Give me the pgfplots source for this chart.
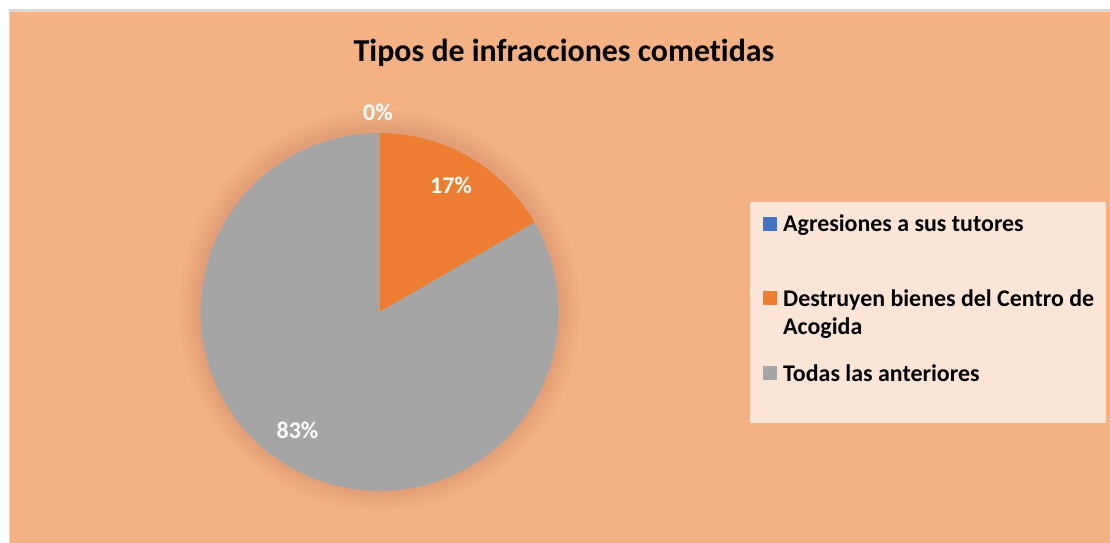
\documentclass[border=0pt]{standalone}
\usepackage{pgfplots}
\pgfplotsset{compat=1.18}
\usepackage{pgfplotstable}
\usepackage{fontspec}
\setmainfont{Carlito}[Ligatures=NoCommon]
\definecolor{bgorange}{HTML}{F4B183}
\definecolor{legbg}{HTML}{FBE5D6}
\definecolor{borderg}{HTML}{D9D9D9}
\definecolor{pieblue}{HTML}{4472C4}
\definecolor{pieorange}{HTML}{ED7D31}
\definecolor{piegray}{HTML}{A5A5A5}

\pgfplotstableread{
label value
Agresiones 0
Destruyen 1
Todas 5
}\piedata

\pgfplotstablegetelem{0}{value}\of\piedata \let\vA\pgfplotsretval
\pgfplotstablegetelem{1}{value}\of\piedata \let\vB\pgfplotsretval
\pgfplotstablegetelem{2}{value}\of\piedata \let\vC\pgfplotsretval
\pgfmathsetmacro\total{\vA+\vB+\vC}
\pgfmathsetmacro\angA{90}
\pgfmathsetmacro\angB{\angA-360*\vA/\total}
\pgfmathsetmacro\angC{\angB-360*\vB/\total}
\pgfmathsetmacro\angD{\angC-360*\vC/\total}
\pgfmathtruncatemacro\pA{round(100*\vA/\total)}
\pgfmathtruncatemacro\pB{round(100*\vB/\total)}
\pgfmathtruncatemacro\pC{round(100*\vC/\total)}

\begin{document}
\begin{tikzpicture}[x=1bp,y=1bp]
\useasboundingbox (0,0) rectangle (1110,543);
% background
\fill[white] (0,0) rectangle (1110,543);
\fill[borderg] (8.5,0) rectangle (1110,533.5);
\fill[bgorange] (10,0) rectangle (1110,531);
% title
\node[anchor=base, font=\fontsize{32}{38}\selectfont\bfseries] at (564,481) {Tipos de infracciones cometidas};
\begin{axis}[
  x=1bp, y=1bp,
  xmin=-180, xmax=180, ymin=-180, ymax=180,
  hide axis, clip=false,
  anchor=center, at={(379.5bp,231bp)},
]
% soft shadow
\pgfplotsinvokeforeach{1,...,9}{
  \fill[black, opacity=0.009] (axis cs:0,2) circle[radius={179bp+2.5bp*#1}];
}
\fill[pieblue] (axis cs:0,0) -- ++(\angA:179bp) arc[start angle=\angA, end angle=\angB, radius=179bp] -- cycle;
\fill[pieorange] (axis cs:0,0) -- ++(\angB:179bp) arc[start angle=\angB, end angle=\angC, radius=179bp] -- cycle;
\fill[piegray] (axis cs:0,0) -- ++(\angC:179bp) arc[start angle=\angC, end angle=\angD, radius=179bp] -- cycle;
\node[anchor=base, white, font=\fontsize{24}{28}\selectfont\bfseries] at (axis cs:-1.5,191) {\pA\%};
\node[anchor=base, white, font=\fontsize{24}{28}\selectfont\bfseries] at (axis cs:71.5,118) {\pB\%};
\node[anchor=base, white, font=\fontsize{24}{28}\selectfont\bfseries] at (axis cs:-82,-127) {\pC\%};
\end{axis}
% legend
\fill[legbg] (750,120) rectangle (1106,341);
\fill[pieblue] (763,311.5) rectangle (777,325.5);
\fill[pieorange] (763,237.5) rectangle (777,251.5);
\fill[piegray] (763,163) rectangle (777,177);
\begin{scope}[every node/.style={anchor=base west, inner sep=0pt, font=\fontsize{24}{29}\selectfont\bfseries, align=left}]
\node at (783,311) {Agresiones a sus tutores};
\node at (783,236) {Destruyen bienes del Centro de};
\node at (783,208) {Acogida};
\node at (783,161) {Todas las anteriores};
\end{scope}
\end{tikzpicture}
\end{document}
